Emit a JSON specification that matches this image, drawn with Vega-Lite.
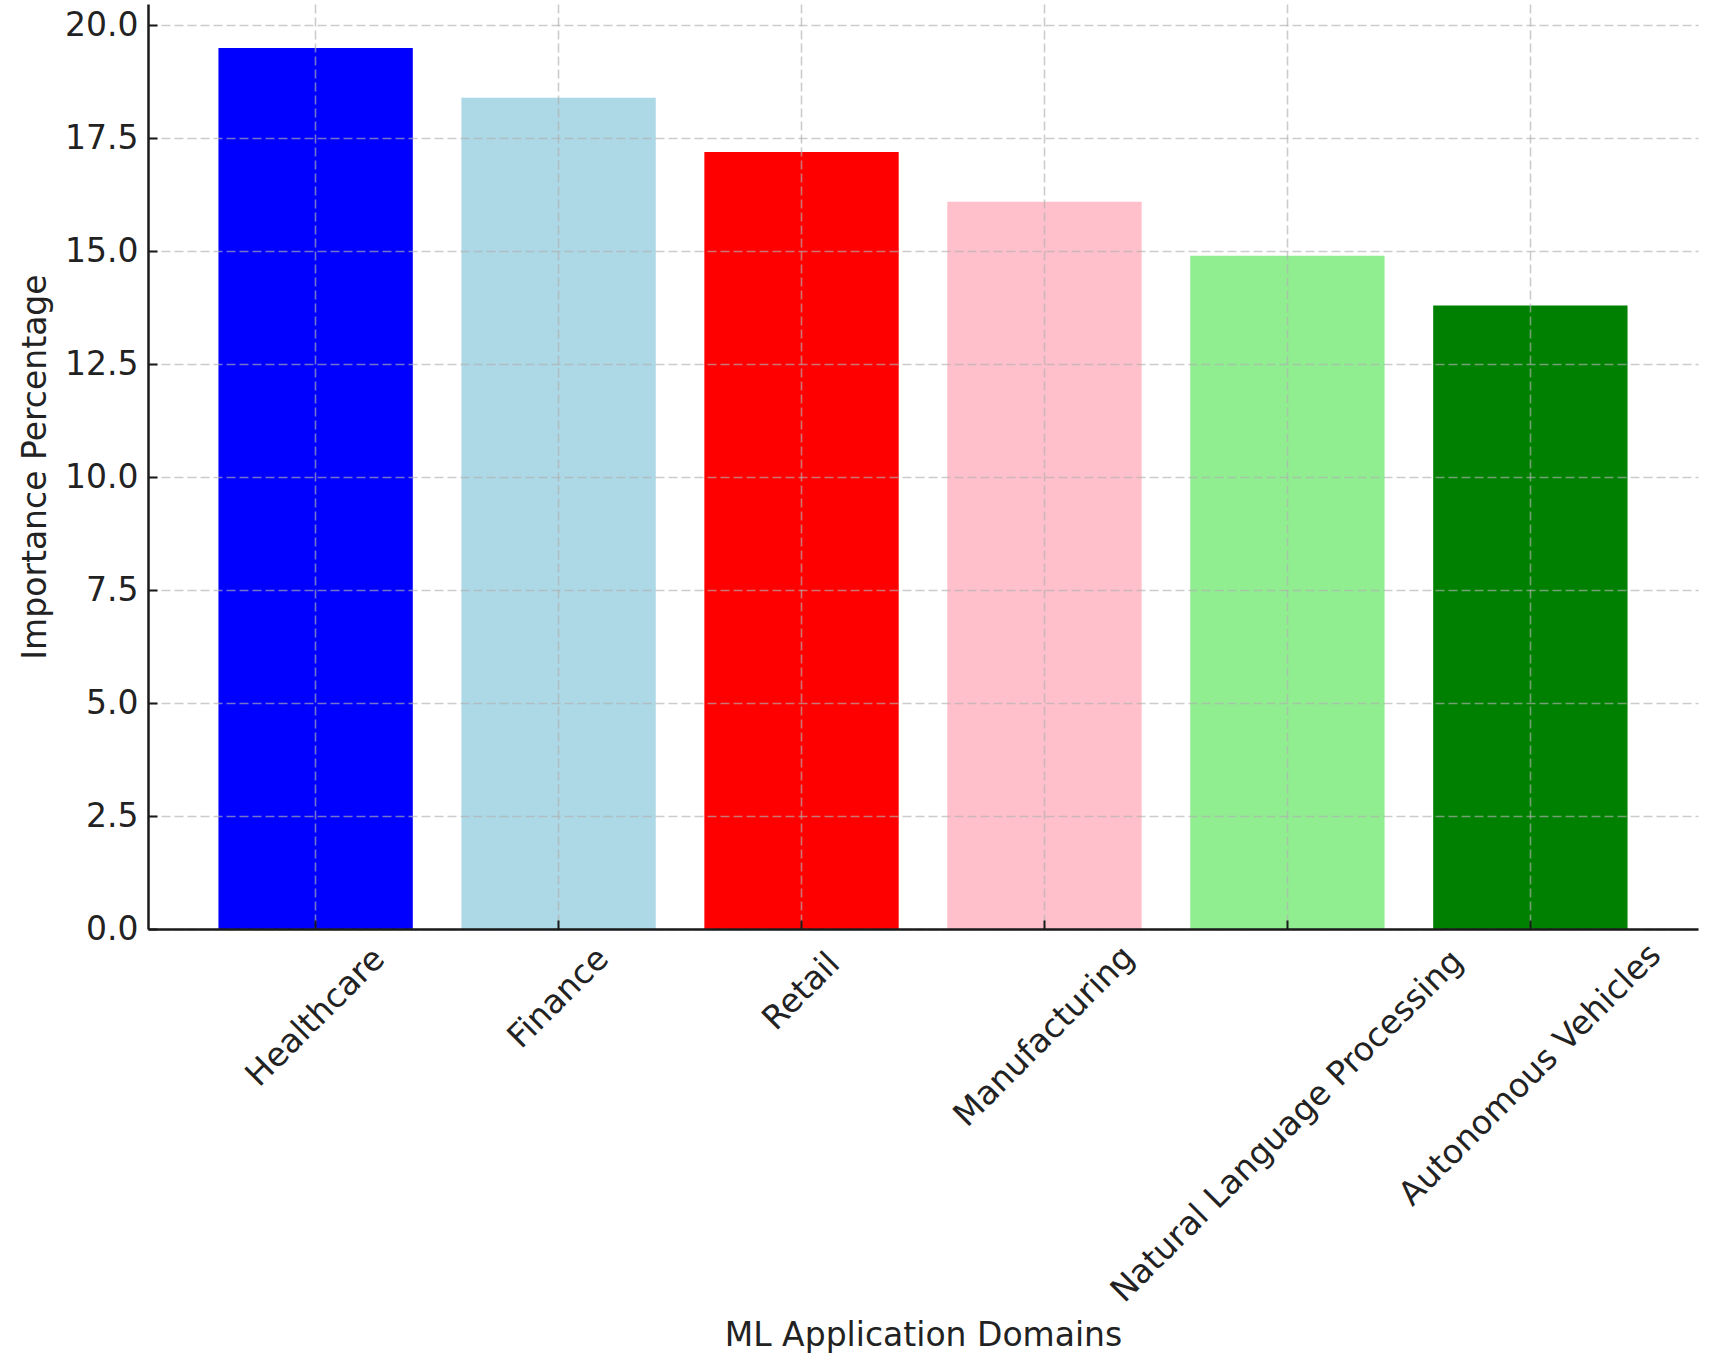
{
  "$schema": "https://vega.github.io/schema/vega-lite/v6.json",
  "width": 1550,
  "height": 925,
  "autosize": {"type": "none"},
  "padding": {"left": 148, "top": 4, "right": 20, "bottom": 441},
  "background": "white",
  "config": {
    "view": {"stroke": null},
    "font": "DejaVu Sans",
    "axis": {
      "labelFont": "DejaVu Sans",
      "titleFont": "DejaVu Sans",
      "labelFontSize": 33,
      "titleFontSize": 33,
      "titleFontWeight": "normal",
      "labelColor": "#222222",
      "titleColor": "#222222",
      "domainColor": "#1a1a1a",
      "domainWidth": 2.5,
      "tickColor": "#1a1a1a",
      "tickWidth": 2,
      "tickSize": -9,
      "grid": true,
      "gridColor": "#b0b0b0",
      "gridOpacity": 0.65,
      "gridWidth": 1.6,
      "gridDash": [9, 4]
    }
  },
  "data": {
    "values": [
      {"domain": "Healthcare", "importance": 19.5, "color": "#0000ff"},
      {"domain": "Finance", "importance": 18.4, "color": "#add8e6"},
      {"domain": "Retail", "importance": 17.2, "color": "#ff0000"},
      {"domain": "Manufacturing", "importance": 16.1, "color": "#ffc0cb"},
      {"domain": "Natural Language Processing", "importance": 14.9, "color": "#90ee90"},
      {"domain": "Autonomous Vehicles", "importance": 13.8, "color": "#008000"}
    ]
  },
  "mark": {"type": "bar"},
  "encoding": {
    "x": {
      "field": "domain",
      "type": "nominal",
      "sort": null,
      "scale": {"paddingInner": 0.2, "paddingOuter": 0.29},
      "axis": {
        "zindex": 1,
        "title": "ML Application Domains",
        "titleY": 416,
        "titleBaseline": "alphabetic",
        "labelAngle": -45,
        "labelAlign": "center",
        "labelBaseline": "middle",
        "labelPadding": {"expr": "21 + 0.3536 * (length(datum.value) * 18.15 + 33)"},
        "labelLimit": 0,
        "labelOverlap": false
      }
    },
    "y": {
      "field": "importance",
      "type": "quantitative",
      "scale": {"domain": [0, 20.475], "nice": false, "zero": true},
      "axis": {
        "zindex": 1,
        "title": "Importance Percentage",
        "values": [0, 2.5, 5, 7.5, 10, 12.5, 15, 17.5, 20],
        "format": ".1f",
        "labelPadding": 19,
        "titleX": -103,
        "titleBaseline": "alphabetic",
        "titleAngle": -90
      }
    },
    "color": {"field": "color", "type": "nominal", "scale": null, "legend": null}
  }
}
